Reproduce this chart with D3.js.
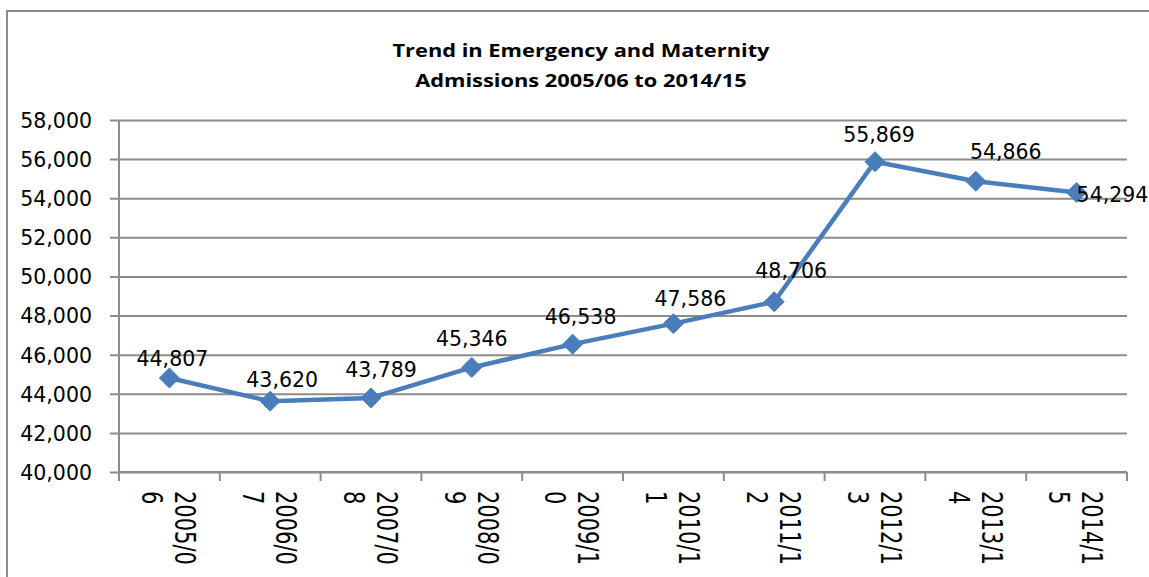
<!DOCTYPE html>
<html lang="en">
<head>
<meta charset="UTF-8">
<title>Trend in Emergency and Maternity Admissions</title>
<style>
  body { margin: 0; background: #fff; }
  svg { display: block; }
</style>
</head>
<body>
<script src="https://d3js.org/d3.v7.min.js"></script>
<script>
// data
const years = ['2005/06', '2006/07', '2007/08', '2008/09', '2009/10',
               '2010/11', '2011/12', '2012/13', '2013/14', '2014/15'];
const admissions = [44807, 43620, 43789, 45346, 46538, 47586, 48706, 55869, 54866, 54294];
const yTicks = [40000, 42000, 44000, 46000, 48000, 50000, 52000, 54000, 56000, 58000];
const titleLines = ['Trend in Emergency and Maternity', 'Admissions 2005/06 to 2014/15'];

const width = 1149, height = 577;
const plot = {left: 119, right: 1127, top: 120, bottom: 472};
const gray = '#8c8c8c', blue = '#4a7ebb';
const numFont = '"DejaVu Sans", sans-serif';
// labels were nudged by hand in the original: [dx, dy of baseline] from the marker
const labelNudge = [[3, -12], [12, -14], [10, -21], [0, -21], [8, -20],
                    [17, -18], [17, -24], [4, -20], [30, -22], [0, 10]];

const svg = d3.select('body').append('svg')
    .attr('width', width)
    .attr('height', height);

// chart frame (right/bottom edges fall outside the picture)
svg.append('rect')
    .attr('x', 7).attr('y', 11)
    .attr('width', 1170).attr('height', 620)
    .attr('fill', '#fff')
    .attr('stroke', gray).attr('stroke-width', 2);

// title
svg.append('g').selectAll('text')
    .data(titleLines)
    .enter().append('text')
    .attr('transform', (d, i) => `translate(581,${57 + i * 30}) scale(1.18,1)`)
    .attr('text-anchor', 'middle')
    .style('font-family', '"Open Sans", sans-serif')
    .style('font-weight', 'bold')
    .style('font-size', '18.5px')
    .text(d => d);

const x = d3.scaleBand().domain(years).range([plot.left, plot.right]);
const y = d3.scaleLinear().domain([40000, 58000]).range([plot.bottom, plot.top]);

// gridlines + y axis
const yAxis = svg.append('g')
    .attr('transform', `translate(${plot.left},0)`)
    .call(d3.axisLeft(y).tickValues(yTicks).tickSize(-(plot.right - plot.left))
        .tickPadding(0).tickFormat(d3.format(',')));
yAxis.select('.domain').remove();
yAxis.selectAll('.tick line')
    .attr('x1', -9)
    .attr('stroke', gray).attr('stroke-width', 2);
yAxis.selectAll('.tick text')
    .attr('x', -27)
    .attr('dy', '0.36em')
    .style('font-family', numFont)
    .style('font-size', '20.5px')
    .attr('fill', '#000');

// left axis line
svg.append('line')
    .attr('x1', plot.left).attr('x2', plot.left)
    .attr('y1', plot.top).attr('y2', plot.bottom)
    .attr('stroke', gray).attr('stroke-width', 2);

// x axis ticks on band boundaries
const xAxis = svg.append('g')
    .attr('transform', `translate(0,${plot.bottom})`);
xAxis.append('line')
    .attr('x1', plot.left).attr('x2', plot.right)
    .attr('stroke', gray).attr('stroke-width', 2);
xAxis.selectAll('line.tk')
    .data(years.concat(['end']))
    .enter().append('line')
    .attr('class', 'tk')
    .attr('x1', (d, i) => i < years.length ? x(d) : plot.right)
    .attr('x2', (d, i) => i < years.length ? x(d) : plot.right)
    .attr('y1', 0).attr('y2', 9)
    .attr('stroke', gray).attr('stroke-width', 2);

// x labels, rotated and wrapped like the original
const xl = svg.append('g').selectAll('text')
    .data(years)
    .enter().append('text')
    .attr('transform', d => `translate(${x(d) + x.bandwidth() / 2},491) rotate(90) scale(1,1.35)`)
    .style('font-family', numFont)
    .style('font-size', '21px')
    .attr('fill', '#000');
xl.append('tspan')
    .attr('x', 0).attr('y', -11.5)
    .attr('dominant-baseline', 'central')
    .text(d => d.slice(0, 6));
xl.append('tspan')
    .attr('x', 0).attr('y', 13)
    .attr('dominant-baseline', 'central')
    .text(d => d.slice(6));

// line
const cx = d => x(d) + x.bandwidth() / 2;
const pts = years.map((d, i) => [cx(d), y(admissions[i])]);
svg.append('path')
    .attr('d', d3.line()(pts))
    .attr('fill', 'none')
    .attr('stroke', blue)
    .attr('stroke-width', 4.5)
    .attr('stroke-linejoin', 'round');

// diamond markers
svg.append('g').selectAll('path')
    .data(pts)
    .enter().append('path')
    .attr('transform', d => `translate(${d[0]},${d[1]})`)
    .attr('d', 'M0,-10L10,0L0,10L-10,0Z')
    .attr('fill', blue)
    .attr('stroke', blue)
    .attr('stroke-width', 1);

// data labels
const last = years.length - 1;
svg.append('g').selectAll('text')
    .data(admissions)
    .enter().append('text')
    .attr('x', (d, i) => pts[i][0] + labelNudge[i][0])
    .attr('y', (d, i) => pts[i][1] + labelNudge[i][1])
    .attr('text-anchor', (d, i) => i === last ? 'start' : 'middle')
    .style('font-family', numFont)
    .style('font-size', '20.5px')
    .attr('fill', '#000')
    .text(d => d3.format(',')(d));
</script>
</body>
</html>
